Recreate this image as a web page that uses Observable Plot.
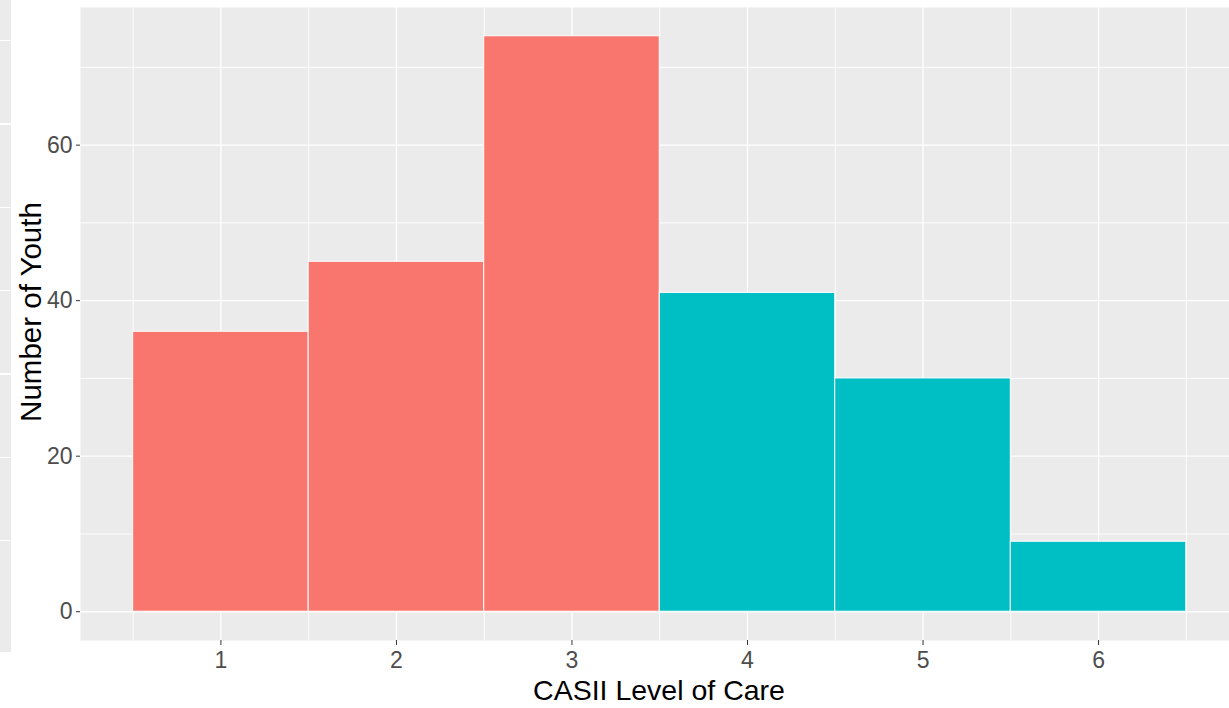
<!DOCTYPE html>
<html>
<head>
<meta charset="utf-8">
<script src="https://cdn.jsdelivr.net/npm/d3@7"></script>
<script src="https://cdn.jsdelivr.net/npm/@observablehq/plot@0.6"></script>
<style>
  html, body { margin: 0; padding: 0; background: white; }
  #wrap { position: relative; width: 1229px; height: 708px; overflow: hidden; }
  #strip {
    position: absolute; left: 0; top: 0; width: 11px; height: 652px; z-index: 2;
    background-color: #EBEBEB;
    background-image: repeating-linear-gradient(to bottom, rgba(255,255,255,0) 0px, rgba(255,255,255,0) 82px, #ffffff 82px, #ffffff 83.3px);
    background-position: 0 -42px;
  }
</style>
</head>
<body>
<div id="wrap"><div id="strip"></div><div id="chart"></div></div>
<script>
const levels = [1, 2, 3, 4, 5, 6];
const counts = [36, 45, 74, 41, 30, 9];
const groups = ["low", "low", "low", "high", "high", "high"];
const xTicks = [1, 2, 3, 4, 5, 6];
const xMinor = [0.5, 1.5, 2.5, 3.5, 4.5, 5.5, 6.5];
const yTicks = [0, 20, 40, 60];
const yMinor = [10, 30, 50, 70];
const colorDomain = ["low", "high"];
const colorRange = ["#F8766D", "#00BFC4"];
const xTitle = "CASII Level of Care";
const yTitle = "Number of Youth";

const data = levels.map((l, i) => ({level: l, count: counts[i], group: groups[i]}));

const chart = Plot.plot({
  width: 1229,
  height: 708,
  marginLeft: 80,
  marginRight: 0,
  marginTop: 7,
  marginBottom: 68,
  x: {domain: [0.2, 6.746]},
  y: {domain: [-3.7, 77.7]},
  color: {domain: colorDomain, range: colorRange},
  style: {fontFamily: "'Liberation Sans', Arial, sans-serif", fontSize: "23px", color: "#4D4D4D", background: "white"},
  marks: [
    Plot.frame({fill: "#EBEBEB", stroke: null}),
    Plot.ruleY(yMinor, {stroke: "white", strokeWidth: 0.9}),
    Plot.ruleX(xMinor, {stroke: "white", strokeWidth: 0.9}),
    Plot.ruleY(yTicks, {stroke: "white", strokeWidth: 1.3}),
    Plot.ruleX(xTicks, {stroke: "white", strokeWidth: 1.3}),
    Plot.rectY(data, {x1: d => d.level - 0.5, x2: d => d.level + 0.5, y1: 0, y2: "count", fill: "group", stroke: "white", strokeWidth: 1}),
    Plot.axisX(xTicks, {tickSize: 5, tickPadding: 6, fontSize: 23, label: null, stroke: "#333", tickFormat: d => String(d)}),
    Plot.axisY(yTicks, {tickSize: 4, tickPadding: 4, fontSize: 23, label: null, stroke: "#333", tickFormat: d => String(d)}),
    Plot.text([xTitle], {text: d => d, frameAnchor: "bottom", textAnchor: "middle", lineAnchor: "middle", dx: 4, dy: 50, fontSize: 28.5, fill: "black"}),
    Plot.text([yTitle], {text: d => d, frameAnchor: "left", textAnchor: "middle", lineAnchor: "middle", rotate: -90, dx: -49, dy: -12, fontSize: 29.5, fill: "black"})
  ]
});
document.getElementById("chart").appendChild(chart);
</script>
</body>
</html>
